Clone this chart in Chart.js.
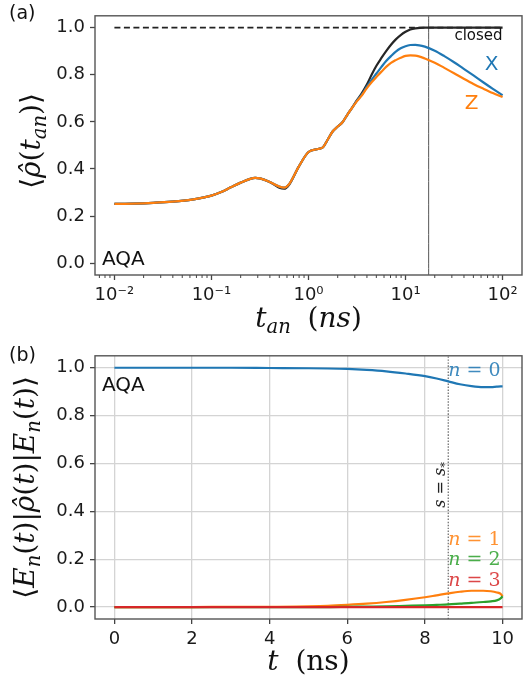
<!DOCTYPE html>
<html><head><meta charset="utf-8">
<script src="https://cdn.jsdelivr.net/npm/chart.js@4.4.0/dist/chart.umd.min.js"></script>
<style>
html,body{margin:0;padding:0;background:#fff;}
#wrap{position:relative;width:523px;height:681px;overflow:hidden;}
canvas{position:absolute;left:0;}
#cA{top:0;} #cB{top:340px;}
</style></head><body>
<div id="wrap">
<canvas id="cA" width="523" height="340"></canvas>
<canvas id="cB" width="523" height="341"></canvas>
</div>
<script>
/* ---------- data: panel (a) ---------- */
const tAn=[0.01,0.0158,0.0251,0.0398,0.0631,0.1,0.126,0.158,0.2,0.251,0.282,0.316,0.398,0.501,0.562,0.631,0.794,1.0,
  1.26,1.41,1.58,1.78,2.0,2.24,2.51,2.82,3.16,3.55,3.98,4.47,5.01,5.62,6.31,7.08,7.94,8.91,10,11.2,12.6,15.8,
  20,25.1,31.6,39.8,50.1,63.1,79.4,100];
const closedVals=[0.252,0.253,0.256,0.261,0.270,0.287,0.302,0.322,0.342,0.358,0.362,0.360,0.345,0.320,0.316,0.333,0.41,0.472,
  0.485,0.492,0.525,0.560,0.580,0.598,0.630,0.660,0.692,0.722,0.757,0.800,0.838,0.870,0.900,0.927,0.950,0.968,0.982,0.992,0.997,1.0,
  1.0,1.0,1.0,1.0,1.0,1.0,1.0,1.0];
const xVals=[0.252,0.253,0.256,0.261,0.270,0.287,0.302,0.322,0.342,0.358,0.362,0.360,0.345,0.325,0.321,0.335,0.41,0.472,
  0.485,0.492,0.525,0.560,0.580,0.598,0.630,0.660,0.690,0.716,0.748,0.778,0.805,0.832,0.858,0.879,0.898,0.912,0.921,0.926,0.927,0.919,
  0.902,0.879,0.853,0.825,0.797,0.768,0.740,0.713];
const zVals=[0.252,0.253,0.256,0.261,0.270,0.287,0.302,0.322,0.342,0.358,0.362,0.360,0.345,0.325,0.321,0.335,0.41,0.472,
  0.485,0.492,0.525,0.560,0.580,0.598,0.630,0.660,0.688,0.712,0.742,0.768,0.790,0.812,0.833,0.850,0.862,0.872,0.880,0.882,0.881,0.869,
  0.851,0.829,0.806,0.783,0.761,0.741,0.722,0.705];
const tStar=17.3;                    // vertical marker, ns
const tickA=[0.01,0.1,1,10,100];
const tickLabA=['10\u207B\u00B2','10\u207B\u00B9','10\u2070','10\u00B9','10\u00B2'];
const yTicks=[0,0.2,0.4,0.6,0.8,1.0];

/* ---------- data: panel (b) ---------- */
const tB=[0,1,2,3,4,5,5.5,6,6.5,7,7.5,8,8.3,8.6,8.9,9.2,9.5,9.7,9.85,9.95,10];
const n0=[1.0,1.0,1.0,1.0,0.999,0.998,0.997,0.995,0.991,0.985,0.976,0.965,0.955,0.943,0.931,0.923,0.919,0.919,0.921,0.922,0.922];
const n1=[0,0,0,0.001,0.001,0.003,0.005,0.009,0.014,0.021,0.030,0.041,0.049,0.057,0.064,0.068,0.068,0.066,0.061,0.055,0.045];
const n2=[0,0,0,0,0,0,0,0.001,0.002,0.003,0.005,0.007,0.009,0.011,0.014,0.017,0.021,0.024,0.028,0.036,0.045];
const n3=[0,0,0,0,0,0,0,0,0,0,0,0,0,0,0,0,0,0,0,0,0];
const sStar=8.6;
const tickB=[0,2,4,6,8,10];

/* ---------- helpers ---------- */
const C={blue:'#1f77b4',orange:'#ff7f0e',green:'#2ca02c',red:'#d62728',black:'#262626'};
const TICKF={family:'"DejaVu Sans"',size:18};
const SERIF='"DejaVu Serif"';
const pts=(xs,ys)=>xs.map((x,i)=>({x,y:ys[i]}));
const line=(data,color,extra)=>Object.assign({data,borderColor:color,borderWidth:2.2,pointRadius:0,fill:false,
  cubicInterpolationMode:'monotone'},extra||{});

function frame(ctx,a){
  ctx.save();ctx.strokeStyle='#555';ctx.lineWidth=1.4;
  ctx.strokeRect(a.left,a.top,a.right-a.left,a.bottom-a.top);ctx.restore();
}
function txt(ctx,s,x,y,font,color,align){
  ctx.save();ctx.font=font;ctx.fillStyle=color;ctx.textAlign=align||'left';ctx.textBaseline='middle';
  ctx.fillText(s,x,y);ctx.restore();
}
// mathtext-ish: parts {t, i:italic, s:subscript, g:gap em}
function math(ctx,parts,cx,cy,size,rot,color){
  ctx.save();ctx.translate(cx,cy);if(rot)ctx.rotate(-Math.PI/2);
  const f=p=>`${p.i?'italic ':''}${(p.s?0.7:1)*size}px ${SERIF}`;
  let w=0;
  for(const p of parts){ctx.font=f(p);p.w=p.g?p.g*size:ctx.measureText(p.t).width;w+=p.w;}
  let px=-w/2;
  ctx.fillStyle=color||'#111';ctx.textAlign='left';ctx.textBaseline='alphabetic';
  for(const p of parts){
    if(!p.g){ctx.font=f(p);ctx.fillText(p.t,px,size*0.3+(p.s?size*0.2:0));}
    px+=p.w;
  }
  ctx.restore();
}
function axisCommon(grid){
  return {border:{display:false},
    grid:Object.assign({drawOnChartArea:false,tickLength:5,tickColor:'#444',tickWidth:1.3},grid||{}),
    ticks:{autoSkip:false,maxRotation:0,padding:5,color:'#1a1a1a',font:TICKF}};
}

/* ---------- panel (a) ---------- */
const minorA=[];
for(let e=-3;e<=2;e++)for(let k=2;k<=9;k++){const v=k*Math.pow(10,e);if(v>Math.pow(10,-2.2)&&v<Math.pow(10,2.2))minorA.push(v);}

const xA=axisCommon({tickColor:c=>c.tick&&c.tick.major?'#444':'rgba(0,0,0,0)'});
Object.assign(xA,{type:'logarithmic',min:Math.pow(10,-2.2),max:Math.pow(10,2.2),
  afterBuildTicks:s=>{s.ticks=tickA.map(v=>({value:v,major:true})).concat(minorA.map(v=>({value:v,major:false}))).sort((p,q)=>p.value-q.value);},
  afterFit:s=>{s.height=65;}});
xA.ticks.callback=v=>{const i=tickA.findIndex(t=>Math.abs(Math.log10(t)-Math.log10(v))<1e-6);return i>=0?tickLabA[i]:'';};
const yA=axisCommon();
Object.assign(yA,{min:-0.05,max:1.05,afterBuildTicks:s=>{s.ticks=yTicks.map(v=>({value:v}));},afterFit:s=>{s.width=95;}});
yA.ticks.callback=v=>v.toFixed(1);

const notesA={id:'notesA',afterDatasetsDraw(ch){
  const {ctx,chartArea:a,scales:{x,y}}=ch;
  frame(ctx,a);
  ctx.save();ctx.strokeStyle='#444';ctx.lineWidth=1;
  for(const v of minorA){const px=x.getPixelForValue(v);ctx.beginPath();ctx.moveTo(px,a.bottom);ctx.lineTo(px,a.bottom+3);ctx.stroke();}
  ctx.restore();
  txt(ctx,'(a)',9,14,'19px "DejaVu Sans"','#111');
  txt(ctx,'AQA',a.left+7,a.bottom-15,'20px "DejaVu Sans"','#111');
  txt(ctx,'closed',x.getPixelForValue(100),y.getPixelForValue(0.965),'15px "DejaVu Sans"','#111','right');
  txt(ctx,'X',x.getPixelForValue(77),y.getPixelForValue(0.84),'20px "DejaVu Sans"',C.blue,'center');
  txt(ctx,'Z',x.getPixelForValue(48),y.getPixelForValue(0.677),'20px "DejaVu Sans"',C.orange,'center');
  math(ctx,[{t:'\u27E8'},{t:'\u03C1\u0302',i:1},{t:'('},{t:'t',i:1},{t:'an',i:1,s:1},{t:')'},{t:'\u27E9'}],32,141,28,true);
  math(ctx,[{t:'t',i:1},{t:'an',i:1,s:1},{g:0.6},{t:'('},{t:'ns',i:1},{t:')'}],(a.left+a.right)/2,319,28,false);
}};

new Chart(document.getElementById('cA'),{
  type:'line',
  data:{datasets:[
    line(pts(tAn,zVals),C.orange),
    line(pts(tAn,xVals),C.blue),
    line(pts(tAn,closedVals),C.black),
    line([{x:tAn[0],y:1},{x:tAn[tAn.length-1],y:1}],'#222',{borderWidth:1.8,borderDash:[6,3.5]}),
    line([{x:tStar,y:-0.05},{x:tStar,y:1.05}],'#555',{borderWidth:1})
  ]},
  options:{responsive:false,animation:false,parsing:false,
    layout:{padding:{top:5,right:1,left:0,bottom:0}},
    plugins:{legend:{display:false},tooltip:{enabled:false}},
    scales:{x:xA,y:yA}},
  plugins:[notesA]
});

/* ---------- panel (b) ---------- */
const gridB={drawOnChartArea:true,color:'#d4d4d4',lineWidth:1.3};
const xB=axisCommon(gridB);
Object.assign(xB,{type:'linear',min:-0.5,max:10.5,afterBuildTicks:s=>{s.ticks=tickB.map(v=>({value:v}));},afterFit:s=>{s.height=62;}});
xB.ticks.callback=v=>String(v);
const yB=axisCommon(gridB);
Object.assign(yB,{min:-0.05,max:1.05,afterBuildTicks:s=>{s.ticks=yTicks.map(v=>({value:v}));},afterFit:s=>{s.width=95;}});
yB.ticks.callback=v=>v.toFixed(1);

const notesB={id:'notesB',afterDatasetsDraw(ch){
  const {ctx,chartArea:a,scales:{x,y}}=ch;
  frame(ctx,a);
  txt(ctx,'(b)',9,16,'19px "DejaVu Sans"','#111');
  txt(ctx,'AQA',a.left+7,a.top+30,'20px "DejaVu Sans"','#111');
  const lab=(n,v,col)=>math(ctx,[{t:'n',i:1},{t:' = '+n}],0,0,0,false)||null;
  const nl=[[0,0.988,'rgba(31,119,180,0.85)'],[1,0.284,'rgba(255,127,14,0.85)'],[2,0.198,'rgba(44,160,44,0.85)'],[3,0.112,'rgba(214,39,40,0.85)']];
  for(const [n,v,col] of nl){
    ctx.save();ctx.font=`19px ${SERIF}`;const w1=ctx.measureText(' = '+n).width;ctx.font=`italic 19px ${SERIF}`;const w0=ctx.measureText('n').width;ctx.restore();
    const right=x.getPixelForValue(9.95);
    math(ctx,[{t:'n',i:1},{t:' = '+n}],right-(w0+w1)/2,y.getPixelForValue(v),19,false,col);
  }
  math(ctx,[{t:'s',i:1},{t:' = '},{t:'s',i:1},{t:'*',s:1}],x.getPixelForValue(8.39),y.getPixelForValue(0.51),16,true,'#222');
  math(ctx,[{t:'\u27E8'},{t:'E',i:1},{t:'n',i:1,s:1},{t:'('},{t:'t',i:1},{t:')|'},{t:'\u03C1\u0302',i:1},{t:'('},{t:'t',i:1},{t:')|'},
    {t:'E',i:1},{t:'n',i:1,s:1},{t:'('},{t:'t',i:1},{t:')'},{t:'\u27E9'}],26,(a.top+a.bottom)/2,28,true);
  math(ctx,[{t:'t',i:1},{g:0.6},{t:'(ns)'}],(a.left+a.right)/2,322,28,false);
}};

new Chart(document.getElementById('cB'),{
  type:'line',
  data:{datasets:[
    line(pts(tB,n3),C.red),
    line(pts(tB,n2),C.green),
    line(pts(tB,n1),C.orange),
    line(pts(tB,n0),C.blue),
    line([{x:sStar,y:-0.05},{x:sStar,y:1.05}],'#666',{borderWidth:1.2,borderDash:[1.5,1.5]})
  ]},
  options:{responsive:false,animation:false,parsing:false,
    layout:{padding:{top:10,right:1,left:0,bottom:0}},
    plugins:{legend:{display:false},tooltip:{enabled:false}},
    scales:{x:xB,y:yB}},
  plugins:[notesB]
});
</script></body></html>
